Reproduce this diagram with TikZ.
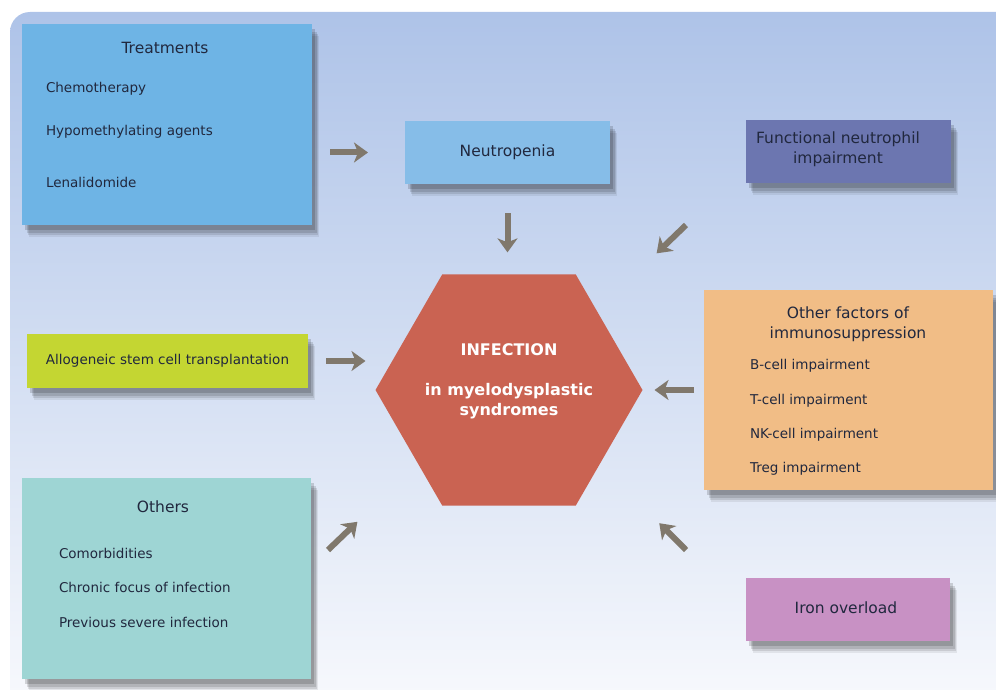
\documentclass[tikz,border=0pt]{standalone}
\usepackage{fontspec}
\setmainfont{DejaVu Sans}
\usepackage{tikz}
\usetikzlibrary{positioning}
\usetikzlibrary{calc}
\usetikzlibrary{arrows.meta}
\usetikzlibrary{shapes.geometric}
\usetikzlibrary{shadows}
\definecolor{mybgtop}{RGB}{174,195,232}
\definecolor{mybgbottom}{RGB}{249,250,253}
\definecolor{mytreatblue}{RGB}{110,180,229}
\definecolor{myneutblue}{RGB}{134,189,232}
\definecolor{myfuncpurple}{RGB}{108,118,176}
\definecolor{myhexred}{RGB}{202,99,82}
\definecolor{myallolime}{RGB}{196,214,50}
\definecolor{myotherpeach}{RGB}{241,189,134}
\definecolor{myothersteal}{RGB}{158,213,212}
\definecolor{myironpink}{RGB}{200,145,196}
\definecolor{myarrowgrey}{RGB}{128,120,108}
\definecolor{mytextdark}{RGB}{33,40,62}
\tikzset{
  softshadow/.style={
    drop shadow={shadow xshift=7pt,shadow yshift=-12pt,opacity=.07,fill=black},
    drop shadow={shadow xshift=6pt,shadow yshift=-10pt,opacity=.10,fill=black},
    drop shadow={shadow xshift=5pt,shadow yshift=-8pt,opacity=.12,fill=black},
    drop shadow={shadow xshift=3pt,shadow yshift=-5pt,opacity=.15,fill=black}},
  factorbox/.style args={#1,#2,#3}{shape=rectangle,fill=#1,minimum width=#2,minimum height=#3,softshadow},
  boxtitle/.style={text=mytextdark,font=\fontsize{15.5}{20}\selectfont,align=center},
  boxitem/.style={text=mytextdark,font=\fontsize{13.5}{16}\selectfont,anchor=west},
  hextext/.style={text=white,font=\fontsize{16}{20}\selectfont\bfseries,align=center},
  bigarrow/.style={draw=myarrowgrey,line width=6pt,-{Stealth[length=14pt,width=20pt,inset=4pt]}}
}

\begin{document}
\begin{tikzpicture}[x=1pt, y=-1pt, every node/.style={inner sep=0mm, outer sep=0mm}]
\useasboundingbox (0,0) rectangle (996,690);
\shade[top color=mybgtop, bottom color=mybgbottom, rounded corners=20pt] (10,12) rectangle (1030,720);
\node[factorbox={mytreatblue,290pt,201pt}] (treat) at (167,124.5) {};
\node[boxtitle] (treattitle) at (165,48) {Treatments};
\node[boxitem] (chemo) at (46,89) {Chemotherapy};
\node[boxitem] (hypo) at (46,132) {Hypomethylating agents};
\node[boxitem] (lena) at (46,182) {Lenalidomide};
\node[factorbox={myneutblue,205pt,63pt}] (neut) at (507.5,152.5) {};
\node[boxtitle] (neuttext) at (neut) {Neutropenia};
\node[factorbox={myfuncpurple,205pt,63pt}] (func) at (848.5,151.5) {};
\node[boxtitle] (functext) at (838,149) {Functional neutrophil\\impairment};
\node[regular polygon, regular polygon sides=6, minimum size=267pt, fill=myhexred] (hex) at (509,390) {};
\node[hextext] (infect) at (509,350) {INFECTION};
\node[hextext] (mds) at (509,401) {in myelodysplastic\\syndromes};
\node[factorbox={myallolime,281pt,54pt}] (allo) at (167.5,361) {};
\node[boxitem, anchor=center] (allotext) at (allo) {Allogeneic stem cell transplantation};
\node[factorbox={myotherpeach,289pt,200pt}] (other) at (848.5,390) {};
\node[boxtitle] (othertitle) at (848,324) {Other factors of\\immunosuppression};
\node[boxitem] (bcell) at (750,366) {B-cell impairment};
\node[boxitem] (tcell) at (750,401) {T-cell impairment};
\node[boxitem] (nkcell) at (750,435) {NK-cell impairment};
\node[boxitem] (treg) at (750,469) {Treg impairment};
\node[factorbox={myothersteal,289pt,201pt}] (misc) at (166.5,578.5) {};
\node[boxtitle] (misctitle) at (163,507) {Others};
\node[boxitem] (comorb) at (59,553) {Comorbidities};
\node[boxitem] (chronic) at (59,587) {Chronic focus of infection};
\node[boxitem] (prev) at (59,622) {Previous severe infection};
\node[factorbox={myironpink,204pt,63pt}] (iron) at (848,609.5) {};
\node[boxtitle] (irontext) at (846,608) {Iron overload};
\coordinate (functail) at (686,225);
\coordinate (misctail) at (328,550);
\coordinate (irontail) at (686,550);
\draw[bigarrow, shorten <=18pt, shorten >=37pt] (treat.east |- neut.west) -- (neut.west);
\draw[bigarrow, shorten <=29pt, shorten >=22pt] (neut.south) -- (neut.south |- hex.north);
\draw[bigarrow, shorten >=83pt] (functail) -- (hex.42);
\draw[bigarrow, shorten <=18pt, shorten >=10pt] (allo.east) -- (allo.east -| hex.west);
\draw[bigarrow, shorten <=10pt, shorten >=12pt] (other.west) -- (hex.east);
\draw[bigarrow, shorten >=84pt] (misctail) -- (hex.219);
\draw[bigarrow, shorten >=84pt] (irontail) -- (hex.321);
\end{tikzpicture}
\end{document}
